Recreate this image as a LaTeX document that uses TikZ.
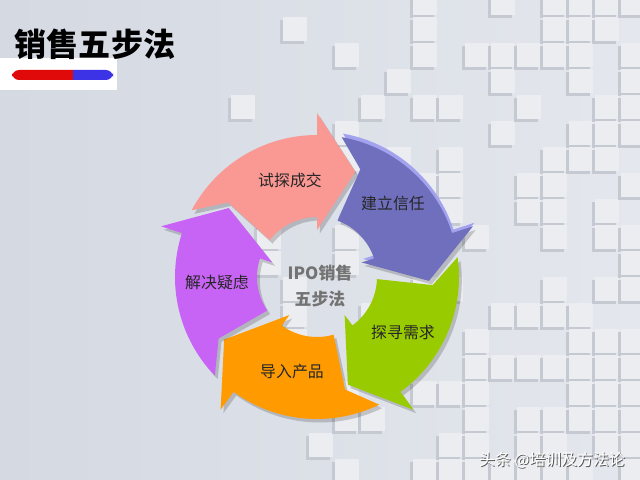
\documentclass[tikz,border=0pt]{standalone}
\usepackage{fontspec}
\setmainfont{Noto Sans CJK SC}
\definecolor{bgleft}{RGB}{212,217,226}
\definecolor{bgright}{RGB}{228,231,237}
\definecolor{cubelight}{RGB}{235,237,241}
\definecolor{cubedark}{RGB}{196,201,210}
\definecolor{arrowpink}{RGB}{250,152,148}
\definecolor{arrowpurple}{RGB}{111,111,190}
\definecolor{rimpurple}{RGB}{162,162,238}
\definecolor{arrowgreen}{RGB}{153,204,0}
\definecolor{arroworange}{RGB}{255,155,0}
\definecolor{arrowviolet}{RGB}{200,100,245}
\definecolor{barred}{RGB}{225,10,10}
\definecolor{barblue}{RGB}{60,50,230}

\begin{document}
\begin{tikzpicture}[x=0.025cm, y=0.025cm,
    steplabel/.style={text=black!85, font=\fontsize{11.3}{13}\selectfont},
    cubeface/.style={fill=cubelight},
    cubeshade/.style={fill=cubedark},
    shadowed/.style={preaction={fill=black, opacity=.18, transform canvas={xshift=2pt, yshift=-2.5pt}}}]
    \useasboundingbox (0,0) rectangle (640,480);
    \shade[left color=bgleft, right color=bgright] (0,0) rectangle (640,480);
    \pgfmathsetseed{11}
    \foreach \i in {0,...,15}
      \foreach \j in {0,...,18} {
        \pgfmathtruncatemacro\keep{rnd < 0.08+0.62*\i/15}
        \ifnum\keep=1
          \fill[cubeshade] (228+26*\i, 462-26*\j) rectangle +(24,24);
          \fill[cubeface] (231+26*\i, 465-26*\j) rectangle +(24,24);
        \fi
      }
    \fill[white] (0,390) rectangle (117,422);
    \node[font=\fontsize{22.8}{26}\selectfont\bfseries] (title) at (95,436) {销售五步法};
    \begin{scope}
      \clip (12,400) rectangle (73,410);
      \fill[barred, rounded corners=5] (12,400) rectangle (113,410);
    \end{scope}
    \begin{scope}
      \clip (73,400) rectangle (113,410);
      \fill[barblue, rounded corners=5] (12,400) rectangle (113,410);
    \end{scope}
    \begin{scope}[shift={(317,203)}]
      \foreach \h/\col/\rim in {90/arrowpink/none, 18/arrowpurple/rimpurple, -54/arrowgreen/none,
                                -126/arroworange/none, -198/arrowviolet/none}
        \fill[shadowed, preaction={fill=\rim, transform canvas={xshift=1pt, yshift=2.5pt}}, fill=\col]
          (\h+62:142) arc[start angle=\h+62, end angle=\h, radius=142] -- (\h:164) -- (\h-20:112)
          -- (\h:47) -- (\h:60) arc[start angle=\h, end angle=\h+52, radius=60] -- (\h+50:116) -- cycle;
    \end{scope}
    \node[steplabel] (close) at (290,300) {试探成交};
    \node[steplabel] (trust) at (393,277) {建立信任};
    \node[steplabel] (needs) at (403,148) {探寻需求};
    \node[steplabel] (product) at (292,108) {导入产品};
    \node[steplabel] (doubts) at (217,198) {解决疑虑};
    \node[align=center, text=black!55, font=\fontsize{12}{19}\selectfont\bfseries] (hub) at (320,194) {IPO销售\\五步法};
    \node[text=black!65, font=\fontsize{11.3}{13}\selectfont] (markshadow) at (553,19) {头条 @培训及方法论};
    \node[text=white, font=\fontsize{11.3}{13}\selectfont] (mark) at (552,20) {头条 @培训及方法论};
  \end{tikzpicture}
\end{document}
